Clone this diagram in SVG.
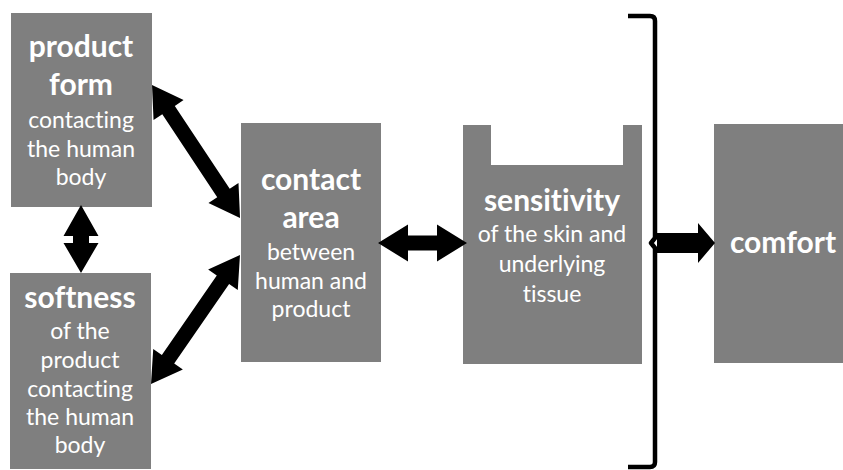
<svg xmlns="http://www.w3.org/2000/svg" width="843" height="470" viewBox="0 0 843 470">
<style>
.box{fill:#7f7f7f}
text{font-family:Lato,"Liberation Sans",sans-serif;fill:#fff;text-anchor:middle;font-variant-ligatures:none}
.b{font-weight:bold;font-size:30px}
.r{font-size:23px}
.arr{fill:#000}
.br{fill:none;stroke:#000;stroke-width:4.5;stroke-linejoin:round}
</style>
<g id="product-form">
<rect class="box" x="11" y="13" width="141" height="194"/>
<text class="b" x="81" y="57">product</text>
<text class="b" x="81" y="95">form</text>
<text class="r" x="81" y="128">contacting</text>
<text class="r" x="81" y="157">the human</text>
<text class="r" x="81" y="185">body</text>
</g>
<g id="softness">
<rect class="box" x="10" y="273" width="141" height="196"/>
<text class="b" x="80" y="308">softness</text>
<text class="r" x="80" y="339">of the</text>
<text class="r" x="80" y="368">product</text>
<text class="r" x="80" y="397">contacting</text>
<text class="r" x="80" y="425">the human</text>
<text class="r" x="80" y="453">body</text>
</g>
<g id="contact-area">
<rect class="box" x="241" y="123" width="140" height="239"/>
<text class="b" x="311" y="190">contact</text>
<text class="b" x="311" y="228">area</text>
<text class="r" x="311" y="260">between</text>
<text class="r" x="311" y="289">human and</text>
<text class="r" x="311" y="317">product</text>
</g>
<g id="sensitivity">
<path class="box" d="M463,125 H491 V165 H623 V125 H642 V364 H463 Z"/>
<text class="b" x="552" y="211">sensitivity</text>
<text class="r" x="552" y="242">of the skin and</text>
<text class="r" x="552" y="272">underlying</text>
<text class="r" x="552" y="302">tissue</text>
</g>
<g id="comfort">
<rect class="box" x="714" y="124" width="135" height="239"/>
<text class="b" x="783" y="253">comfort</text>
</g>
<g id="connectors">
<path class="arr" transform="translate(152,85) rotate(56.5)" d="M0,0 L30,-18 L30,-7.5 L129.5,-7.5 L129.5,-18 L159.5,0 L129.5,18 L129.5,7.5 L30,7.5 L30,18 Z"/>
<path class="arr" transform="translate(151,384) rotate(-55.4)" d="M0,0 L30,-18 L30,-7.5 L126.7,-7.5 L126.7,-18 L156.7,0 L126.7,18 L126.7,7.5 L30,7.5 L30,18 Z"/>
<path class="arr" d="M81,205 L98.5,236 L89,236 L89,243 L98.5,243 L81,273 L63.5,243 L73,243 L73,236 L63.5,236 Z"/>
<path class="arr" d="M378,243 L408,224.5 L408,235.5 L437,235.5 L437,224.5 L467,243 L437,261.5 L437,250.5 L408,250.5 L408,261.5 Z"/>
<path class="arr" d="M657,233 H698 V223 L715,243 L698,263 V253 H657 Z"/>
<path class="br" d="M628,16 H650 Q655,16 655,21 V238 L651,243 L655,248 V462 Q655,467 650,467 H628"/>
</g>
</svg>
